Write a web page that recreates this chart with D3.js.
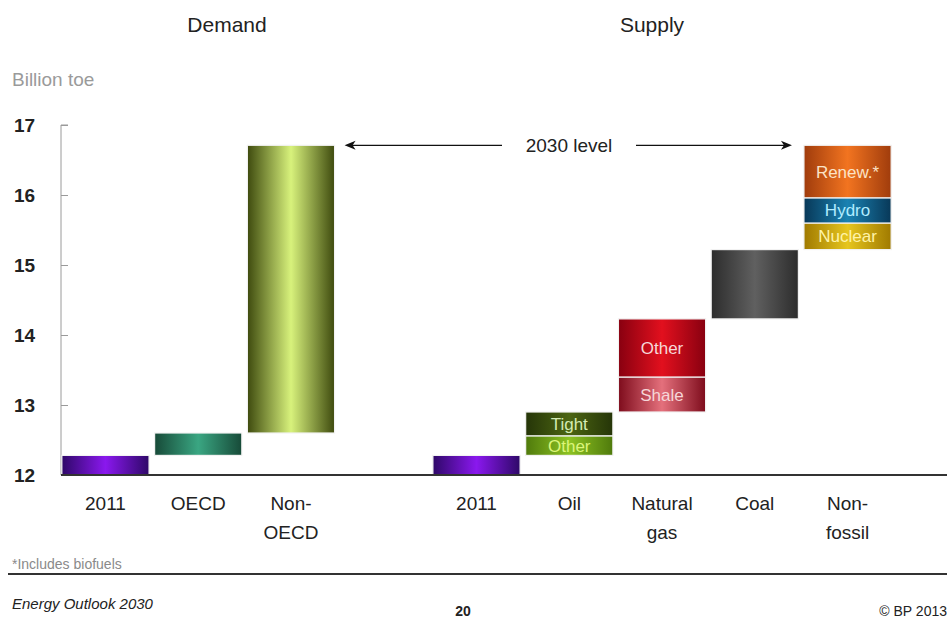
<!DOCTYPE html>
<html>
<head>
<meta charset="utf-8">
<script src="https://cdn.jsdelivr.net/npm/d3@7"></script>
<style>
  html, body { margin: 0; padding: 0; background: #fff; }
  svg { display: block; font-family: "Liberation Sans", Arial, sans-serif; }
</style>
</head>
<body>
<svg id="chart" width="947" height="623"></svg>
<script>
// Category slots along the x axis (slot "gap" separates demand from supply)
const slots = ["d2011", "oecd", "nonoecd", "gap", "s2011", "oil", "gas", "coal", "nonfossil"];
const slotLabels = [["2011"], ["OECD"], ["Non-", "OECD"], [], ["2011"], ["Oil"], ["Natural", "gas"], ["Coal"], ["Non-", "fossil"]];

// Floating bar segments (billion toe): slot, lower level, upper level, label, fill
const segSlot  = ["d2011", "oecd", "nonoecd", "s2011", "oil",   "oil",   "gas",   "gas",   "coal", "nonfossil", "nonfossil", "nonfossil"];
const segLow   = [12.0,    12.28,  12.6,      12.0,    12.28,   12.56,   12.9,    13.4,    14.23,  15.22,     15.6,      15.96];
const segHigh  = [12.28,   12.6,   16.71,     12.28,   12.56,   12.9,    13.4,    14.23,   15.22,  15.6,      15.96,     16.71];
const segText  = ["",      "",     "",        "",      "Other", "Tight", "Shale", "Other", "",     "Nuclear", "Hydro",   "Renew.*"];
const segFill  = ["purple", "teal", "lime",   "purple", "olive", "darkolive", "pink", "red", "grey", "gold", "blue", "orange"];

const yTicks = [12, 13, 14, 15, 16, 17];

// Gradient palettes: [edge, centre, text colour]
const palette = {
  purple:    ["#2e0868", "#8a18ee", "#fff"],
  teal:      ["#174a38", "#3aa682", "#fff"],
  lime:      ["#3e4a0e", "#d8f27c", "#fff"],
  olive:     ["#4f7a0c", "#8cc222", "#dcf57a"],
  darkolive: ["#253508", "#4c6512", "#d4ebb4"],
  pink:      ["#7e0c1c", "#e4707c", "#f6d6d8"],
  red:       ["#880010", "#e2101e", "#f6d8d8"],
  grey:      ["#2c2c2c", "#606060", "#fff"],
  gold:      ["#a07a00", "#e6c51e", "#fff3a8"],
  blue:      ["#083858", "#1a82b2", "#b0ecff"],
  orange:    ["#a03c0c", "#f27420", "#fbe3c6"]
};

const svg = d3.select("#chart");

const x = d3.scaleBand().domain(slots).range([60, 893]).paddingInner(0.06).paddingOuter(0.02);
const y = d3.scaleLinear().domain([12, 17]).range([475, 125]);

// Horizontal "cylinder" gradients
const defs = svg.append("defs");
Object.entries(palette).forEach(([k, c]) => {
  const g = defs.append("linearGradient").attr("id", "g-" + k)
    .attr("x1", "0%").attr("x2", "100%").attr("y1", "0%").attr("y2", "0%");
  g.append("stop").attr("offset", "0%").attr("stop-color", c[0]);
  g.append("stop").attr("offset", "50%").attr("stop-color", c[1]);
  g.append("stop").attr("offset", "100%").attr("stop-color", c[0]);
});

// Panel titles
svg.append("text").attr("x", 227).attr("y", 32).attr("text-anchor", "middle")
  .attr("font-size", 21).attr("fill", "#222").text("Demand");
svg.append("text").attr("x", 652).attr("y", 32).attr("text-anchor", "middle")
  .attr("font-size", 21).attr("fill", "#222").text("Supply");

// Unit label
svg.append("text").attr("x", 12).attr("y", 86)
  .attr("font-size", 19).attr("fill", "#9a9a9a").text("Billion toe");

// Y axis
const yAxis = d3.axisRight(y).tickValues(yTicks).tickSize(7).tickFormat("");
const ya = svg.append("g").attr("transform", "translate(61,0)").call(yAxis);
ya.select(".domain").attr("stroke", "#9a9a9a").attr("d", `M7,${y(17)}H0V${y(12)}`);
ya.selectAll(".tick line").attr("stroke", "#9a9a9a");
svg.append("g").selectAll("text").data(yTicks).join("text")
  .attr("x", 14).attr("y", d => y(d) + 7)
  .attr("font-size", 19).attr("font-weight", "bold").attr("fill", "#222")
  .text(d => d3.format("d")(d));

// Bar segments
const segs = segSlot.map((s, i) => ({ slot: s, lo: segLow[i], hi: segHigh[i], text: segText[i], fill: segFill[i] }));
const bars = svg.append("g");
bars.selectAll("rect").data(segs).join("rect")
  .attr("x", d => x(d.slot))
  .attr("width", x.bandwidth())
  .attr("y", d => y(d.hi))
  .attr("height", d => y(d.lo) - y(d.hi))
  .attr("fill", d => "url(#g-" + d.fill + ")")
  .attr("stroke", "#f2f2f2").attr("stroke-width", 1.2);

bars.selectAll("text").data(segs.filter(d => d.text)).join("text")
  .attr("x", d => x(d.slot) + x.bandwidth() / 2)
  .attr("y", d => (y(d.lo) + y(d.hi)) / 2 + 6)
  .attr("text-anchor", "middle")
  .attr("font-size", 17)
  .attr("fill", d => palette[d.fill][2])
  .text(d => d.text);

// Baseline
svg.append("line").attr("x1", 61).attr("x2", 947).attr("y1", y(12)).attr("y2", y(12))
  .attr("stroke", "#333").attr("stroke-width", 2);

// Category labels
const cat = svg.append("g").selectAll("text").data(slots.map((s, i) => ({ s, lines: slotLabels[i] })))
  .join("text")
  .attr("text-anchor", "middle")
  .attr("font-size", 19).attr("fill", "#222");
cat.each(function (d) {
  d3.select(this).selectAll("tspan").data(d.lines).join("tspan")
    .attr("x", x(d.s) + x.bandwidth() / 2)
    .attr("y", (l, j) => 510 + j * 29)
    .text(l => l);
});

// 2030 level marker: two arrows pointing at the top of the demand and supply stacks
const level = segHigh[2];
const ly = y(level);
const leftTip = x("nonoecd") + x.bandwidth() + 10;
const rightTip = x("nonfossil") - 12;
const arrows = svg.append("g").attr("fill", "#111").attr("stroke", "#111");
arrows.append("line").attr("x1", leftTip + 6).attr("x2", 502).attr("y1", ly).attr("y2", ly)
  .attr("stroke-width", 1.3);
arrows.append("path").attr("stroke", "none")
  .attr("d", `M${leftTip},${ly}L${leftTip + 11},${ly - 4.5}L${leftTip + 8},${ly}L${leftTip + 11},${ly + 4.5}Z`);
arrows.append("line").attr("x1", 636).attr("x2", rightTip - 6).attr("y1", ly).attr("y2", ly)
  .attr("stroke-width", 1.3);
arrows.append("path").attr("stroke", "none")
  .attr("d", `M${rightTip},${ly}L${rightTip - 11},${ly - 4.5}L${rightTip - 8},${ly}L${rightTip - 11},${ly + 4.5}Z`);
svg.append("text").attr("x", 569).attr("y", ly + 7).attr("text-anchor", "middle")
  .attr("font-size", 19).attr("fill", "#222").text("2030 level");

// Footer
svg.append("text").attr("x", 12).attr("y", 569).attr("font-size", 14).attr("fill", "#8a8a8a")
  .text("*Includes biofuels");
svg.append("line").attr("x1", 8).attr("x2", 947).attr("y1", 574).attr("y2", 574)
  .attr("stroke", "#333").attr("stroke-width", 2);
svg.append("text").attr("x", 12).attr("y", 609).attr("font-size", 15).attr("font-style", "italic")
  .attr("fill", "#222").text("Energy Outlook 2030");
svg.append("text").attr("x", 463).attr("y", 616).attr("text-anchor", "middle").attr("font-size", 14)
  .attr("font-weight", "bold").attr("fill", "#222").text("20");
svg.append("text").attr("x", 947).attr("y", 616).attr("text-anchor", "end").attr("font-size", 14)
  .attr("fill", "#222").text("© BP 2013");
</script>
</body>
</html>
